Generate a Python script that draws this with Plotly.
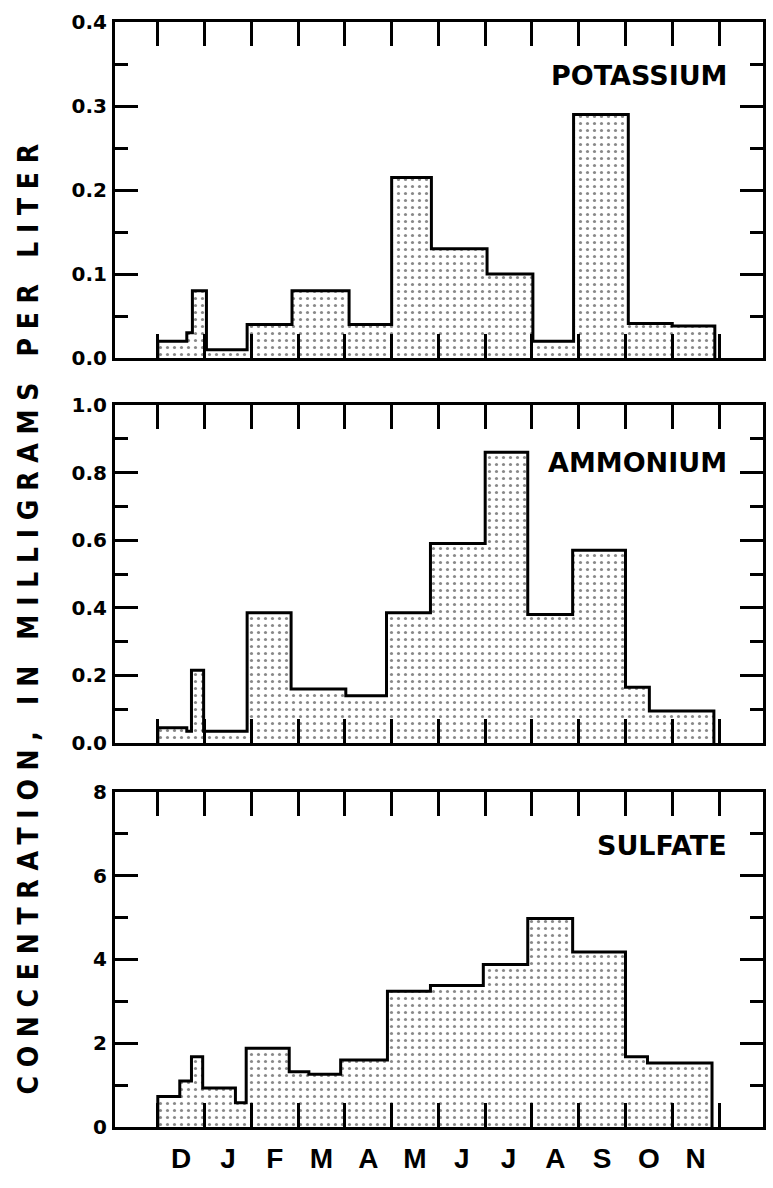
import plotly.graph_objects as go

# ---- data (x in months from start of December; edges of sampling periods) ----
months = ["D", "J", "F", "M", "A", "M", "J", "J", "A", "S", "O", "N"]

potassium_edges = [0.0, 0.62, 0.74, 1.04, 1.91, 2.87, 4.09, 5.0, 5.85, 7.04, 8.02, 8.89, 10.06, 11.0, 11.91]
potassium_vals = [0.02, 0.03, 0.08, 0.01, 0.04, 0.08, 0.04, 0.215, 0.13, 0.10, 0.02, 0.29, 0.041, 0.038]

ammonium_edges = [0.0, 0.62, 0.72, 0.98, 1.91, 2.85, 4.02, 4.89, 5.83, 7.0, 7.91, 8.87, 10.0, 10.51, 11.89]
ammonium_vals = [0.045, 0.035, 0.215, 0.035, 0.385, 0.16, 0.14, 0.385, 0.59, 0.86, 0.38, 0.57, 0.165, 0.095]

sulfate_edges = [0.0, 0.47, 0.72, 0.96, 1.66, 1.89, 2.81, 3.23, 3.91, 4.91, 5.83, 6.96, 7.91, 8.87, 10.0, 10.47, 11.85]
sulfate_vals = [0.73, 1.1, 1.68, 0.93, 0.58, 1.88, 1.32, 1.26, 1.6, 3.24, 3.38, 3.88, 4.98, 4.18, 1.68, 1.53]

panels = [
    dict(name="POTASSIUM", edges=potassium_edges, vals=potassium_vals, yrange=[0, 0.4],
         major=[0.0, 0.1, 0.2, 0.3, 0.4], labels=["0.0", "0.1", "0.2", "0.3", "0.4"],
         minor=[0.05, 0.15, 0.25, 0.35], domain=[0.6959, 1.0], lab_y=0.952),
    dict(name="AMMONIUM", edges=ammonium_edges, vals=ammonium_vals, yrange=[0, 1.0],
         major=[0.0, 0.2, 0.4, 0.6, 0.8, 1.0], labels=["0.0", "0.2", "0.4", "0.6", "0.8", "1.0"],
         minor=[0.1, 0.3, 0.5, 0.7, 0.9], domain=[0.3475, 0.6534], lab_y=0.6018),
    dict(name="SULFATE", edges=sulfate_edges, vals=sulfate_vals, yrange=[0, 8],
         major=[0, 2, 4, 6, 8], labels=["0", "2", "4", "6", "8"],
         minor=[1, 3, 5, 7], domain=[0.0, 0.3032], lab_y=0.2552),
]

fig = go.Figure()
tickfont = dict(family="DejaVu Sans", size=20, color="black", weight="bold")

for i, p in enumerate(panels):
    xs = [p["edges"][0]]
    ys = [0]
    for j, v in enumerate(p["vals"]):
        xs.append(p["edges"][j])
        ys.append(v)
    xs.append(p["edges"][-1])
    ys.append(p["vals"][-1])
    xs.append(p["edges"][-1])
    ys.append(0)
    n = "" if i == 0 else str(i + 1)
    fig.add_trace(go.Scatter(
        x=xs, y=ys, mode="lines", line=dict(shape="hv", color="black", width=3),
        fill="tozeroy", fillcolor="white",
        fillpattern=dict(shape=".", fgcolor="#111111", bgcolor="white", size=7, solidity=0.16),
        xaxis="x" + n, yaxis="y" + n, showlegend=False, hoverinfo="skip"))

    last = (i == 2)
    xa = dict(
        domain=[0, 1], range=[-0.915, 12.94], anchor="y" + n,
        showline=True, linewidth=3, linecolor="black", mirror="ticks",
        showgrid=False, zeroline=False,
        tickmode="array", tickvals=[k + 0.5 for k in range(12)], ticktext=months,
        ticks="inside", ticklen=0, showticklabels=last,
        tickfont=dict(family="Liberation Sans", size=28, color="black", weight="bold"),
        ticklabelstandoff=4,
        minor=dict(tickmode="array", tickvals=list(range(13)), ticks="inside",
                   ticklen=24, tickwidth=2.5, tickcolor="black", showgrid=False),
    )
    ya = dict(
        domain=p["domain"], range=p["yrange"], anchor="x" + n,
        showline=True, linewidth=3, linecolor="black", mirror="ticks",
        showgrid=False, zeroline=False,
        tickmode="array", tickvals=p["major"], ticktext=p["labels"],
        ticks="inside", ticklen=23, tickwidth=2.5, tickcolor="black",
        tickfont=tickfont, ticklabelstandoff=1,
        minor=dict(tickmode="array", tickvals=p["minor"], ticks="inside",
                   ticklen=13, tickwidth=2.5, tickcolor="black", showgrid=False),
    )
    fig.update_layout(**{"xaxis" + n: xa, "yaxis" + n: ya})

    fig.add_annotation(text=p["name"], xref="paper", yref="paper", x=0.948, y=p["lab_y"],
                       xanchor="right", yanchor="middle", showarrow=False,
                       font=dict(family="DejaVu Sans", size=27, color="black", weight="bold"))

fig.add_annotation(text='<span style="letter-spacing:8.7px">CONCENTRATION, IN MILLIGRAMS PER LITER</span>',
                   xref="paper", yref="paper",
                   x=-0.1336, y=0.4633, xanchor="center", yanchor="middle", textangle=-90,
                   showarrow=False,
                   font=dict(family="DejaVu Sans Condensed", size=28, color="black", weight="bold"))

fig.update_layout(width=773, height=1188, margin=dict(l=115, r=7, t=22, b=61),
                  plot_bgcolor="white", paper_bgcolor="white")

fig.write_html("out.html")
